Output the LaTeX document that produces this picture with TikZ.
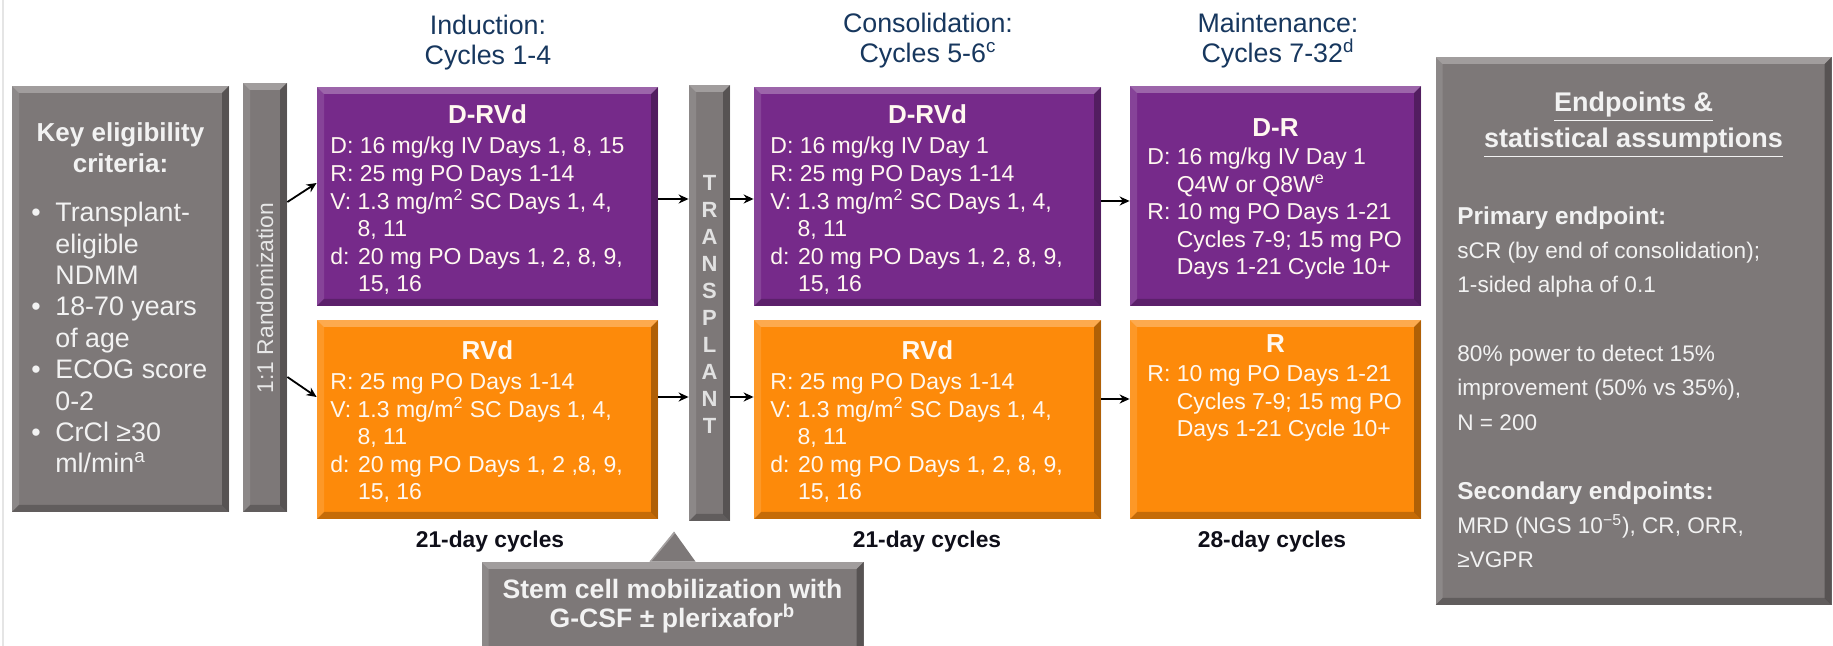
\documentclass[tikz,border=0pt]{standalone}
\usepackage{fontspec}
\setmainfont{Liberation Sans}
\usetikzlibrary{arrows.meta}
\definecolor{gboxc}{RGB}{125,120,120}
\definecolor{purc}{RGB}{118,42,138}
\definecolor{orgc}{RGB}{253,138,10}
\definecolor{ttlc}{RGB}{23,55,94}
\definecolor{ltxt}{RGB}{242,242,242}
\definecolor{wtxt}{RGB}{255,248,240}
\definecolor{darkc}{RGB}{15,15,25}
\newcommand{\bvlpath}{path picture bounding box}
\newcommand{\bulitem}{\makebox[12pt][l]{•}}
\newcommand{\bulcont}{\makebox[12pt]{}}
\begin{document}
\begin{tikzpicture}[x=0.5pt,y=-0.5pt,
 bevel/.style={path picture={
  \fill[white,opacity=.28] (\bvlpath.north west) -- (\bvlpath.north east) -- ([shift={(-3.5pt,-3.5pt)}]\bvlpath.north east) -- ([shift={(3.5pt,-3.5pt)}]\bvlpath.north west) -- cycle;
  \fill[white,opacity=.12] (\bvlpath.north west) -- ([shift={(3.5pt,-3.5pt)}]\bvlpath.north west) -- ([shift={(3.5pt,3.5pt)}]\bvlpath.south west) -- (\bvlpath.south west) -- cycle;
  \fill[black,opacity=.22] (\bvlpath.south west) -- ([shift={(3.5pt,3.5pt)}]\bvlpath.south west) -- ([shift={(-3.5pt,3.5pt)}]\bvlpath.south east) -- (\bvlpath.south east) -- cycle;
  \fill[black,opacity=.3] (\bvlpath.south east) -- ([shift={(-3.5pt,3.5pt)}]\bvlpath.south east) -- ([shift={(-3.5pt,-3.5pt)}]\bvlpath.north east) -- (\bvlpath.north east) -- cycle;
 }},
 boxbase/.style={rectangle, inner sep=0pt, bevel},
 gbox/.style={boxbase, fill=gboxc},
 pbox/.style={boxbase, fill=purc},
 obox/.style={boxbase, fill=orgc},
 phase/.style={align=center, text=ttlc, font=\fontsize{13.4}{15}\selectfont, anchor=base, inner sep=0pt},
 cyc/.style={text=darkc, font=\fontsize{11.4}{13}\selectfont\bfseries, inner sep=0pt},
 hdr/.style={text=wtxt, font=\fontsize{13}{15}\selectfont\bfseries, anchor=base, inner sep=0pt},
 body/.style={text=wtxt, align=left, font=\fontsize{11.5}{13.8}\selectfont, anchor=base west, inner sep=0pt},
 arr/.style={-{Stealth[length=5pt,width=4.5pt]}, line width=0.9pt, black},
]
\useasboundingbox (0,0) rectangle (1833,646);
\clip (0,0) rectangle (1833,646);
\draw[black!10, line width=0.6pt] (3,0) -- (3,646);

% phase titles (anchor = baseline of last line)
\node[phase] (tInd) at (488,65) {Induction:\\Cycles 1-4};
\node[phase] (tCon) at (928,63) {Consolidation:\\Cycles 5-6\textsuperscript{c}};
\node[phase] (tMai) at (1278,63) {Maintenance:\\Cycles 7-32\textsuperscript{d}};

% eligibility box
\node[gbox, minimum width=108.5pt, minimum height=213pt] (elig) at (120.5,299) {};
\node[text=ltxt, align=center, anchor=base, inner sep=0pt, font=\fontsize{13}{15.5}\selectfont\bfseries] (eligT) at (120.5,173) {Key eligibility\\criteria:};
\node[text=ltxt, align=left, anchor=base west, inner sep=0pt, font=\fontsize{13.4}{15.7}\selectfont] (eligL) at (31,473)
 {\bulitem Transplant-\\\bulcont eligible\\\bulcont NDMM\\\bulitem 18-70 years\\\bulcont of age\\\bulitem ECOG score\\\bulcont 0-2\\\bulitem CrCl ≥30\\\bulcont ml/min\textsuperscript{a}};

% randomization bar
\node[gbox, minimum width=22pt, minimum height=214.5pt] (rand) at (265,297.5) {};
\node[rotate=90, text=ltxt!90!gray, inner sep=0pt, font=\fontsize{11.4}{13}\selectfont] (randT) at (265,298) {1:1 Randomization};

% induction
\node[pbox, minimum width=170.5pt, minimum height=109.5pt] (indA) at (487.5,196.5) {};
\node[hdr] (indAh) at (487.5,124) {D-RVd};
\node[body] (indAb) at (330,292) {D: 16 mg/kg IV Days 1, 8, 15\\R: 25 mg PO Days 1-14\\V: 1.3 mg/m\textsuperscript{2} SC Days 1, 4,\\\phantom{V: }8, 11\\d: 20 mg PO Days 1, 2, 8, 9,\\\phantom{d: }15, 16};
\node[obox, minimum width=170.5pt, minimum height=99.5pt] (indB) at (487.5,419.5) {};
\node[hdr] (indBh) at (487.5,360) {RVd};
\node[body] (indBb) at (330,500) {R: 25 mg PO Days 1-14\\V: 1.3 mg/m\textsuperscript{2} SC Days 1, 4,\\\phantom{V: }8, 11\\d: 20 mg PO Days 1, 2 ,8, 9,\\\phantom{d: }15, 16};
\node[cyc] (cInd) at (490,542) {21-day cycles};

% transplant bar
\node[gbox, minimum width=20.5pt, minimum height=218pt] (trans) at (709.5,303) {};
\node[align=center, text=ltxt!85!gray, inner sep=0pt, font=\fontsize{11}{13.5}\selectfont\bfseries] (transT) at (709.5,304) {T\\R\\A\\N\\S\\P\\L\\A\\N\\T};

% consolidation
\node[pbox, minimum width=173.5pt, minimum height=109.5pt] (conA) at (927.5,196.5) {};
\node[hdr] (conAh) at (927.5,124) {D-RVd};
\node[body] (conAb) at (770,292) {D: 16 mg/kg IV Day 1\\R: 25 mg PO Days 1-14\\V: 1.3 mg/m\textsuperscript{2} SC Days 1, 4,\\\phantom{V: }8, 11\\d: 20 mg PO Days 1, 2, 8, 9,\\\phantom{d: }15, 16};
\node[obox, minimum width=173.5pt, minimum height=99.5pt] (conB) at (927.5,419.5) {};
\node[hdr] (conBh) at (927.5,360) {RVd};
\node[body] (conBb) at (770,500) {R: 25 mg PO Days 1-14\\V: 1.3 mg/m\textsuperscript{2} SC Days 1, 4,\\\phantom{V: }8, 11\\d: 20 mg PO Days 1, 2, 8, 9,\\\phantom{d: }15, 16};
\node[cyc] (cCon) at (927,542) {21-day cycles};

% maintenance
\node[pbox, minimum width=145.5pt, minimum height=110pt] (maiA) at (1275.5,196) {};
\node[hdr] (maiAh) at (1275.5,137) {D-R};
\node[body] (maiAb) at (1147,275) {D: 16 mg/kg IV Day 1\\\phantom{D: }Q4W or Q8W\textsuperscript{e}\\R: 10 mg PO Days 1-21\\\phantom{R: }Cycles 7-9; 15 mg PO\\\phantom{R: }Days 1-21 Cycle 10+};
\node[obox, minimum width=145.5pt, minimum height=99.5pt] (maiB) at (1275.5,419.5) {};
\node[hdr] (maiBh) at (1275.5,353) {R};
\node[body] (maiBb) at (1147,437) {R: 10 mg PO Days 1-21\\\phantom{R: }Cycles 7-9; 15 mg PO\\\phantom{R: }Days 1-21 Cycle 10+};
\node[cyc] (cMai) at (1272,542) {28-day cycles};

% endpoints
\node[gbox, minimum width=198pt, minimum height=274pt] (endp) at (1633.5,331) {};
\node[text=ltxt, align=center, anchor=base, inner sep=0pt, font=\fontsize{13.5}{18}\selectfont\bfseries] (endpT) at (1633.5,148) {\underline{Endpoints \&}\\\underline{statistical assumptions}};
\node[text=ltxt, align=left, anchor=base west, inner sep=0pt, font=\fontsize{11.3}{17.2}\selectfont] (endpB) at (1457,568)
 {{\fontsize{12.2}{17.2}\selectfont\bfseries Primary endpoint:}\\sCR (by end of consolidation);\\1-sided alpha of 0.1\\[17.2pt]80\% power to detect 15\%\\improvement (50\% vs 35\%),\\N = 200\\[17.2pt]{\fontsize{12.2}{17.2}\selectfont\bfseries Secondary endpoints:}\\MRD (NGS 10\textsuperscript{−5}), CR, ORR,\\≥VGPR};

% stem cell mobilization
\node[gbox, minimum width=191pt, minimum height=56pt] (stem) at (672.5,618) {};
\fill[gboxc] ([xshift=-11.5pt]stem.north) -- ([xshift=0.75pt,yshift=15pt]stem.north) -- ([xshift=11.5pt]stem.north) -- cycle;
\draw[white,opacity=.3,line width=1.2pt] ([xshift=-11pt,yshift=0.5pt]stem.north) -- ([xshift=0.75pt,yshift=14.5pt]stem.north);
\node[text=ltxt, align=center, anchor=base, inner sep=0pt, font=\fontsize{13.3}{14.5}\selectfont\bfseries] (stemT) at (672.5,628) {Stem cell mobilization with\\G-CSF ± plerixafor\textsuperscript{b}};

% arrows
\draw[arr] ([yshift=47.75pt]rand.east) -- ([yshift=6.75pt]indA.west);
\draw[arr] ([yshift=-39.75pt]rand.east) -- ([yshift=11.25pt]indB.west);
\coordinate (a1) at ([yshift=-1.25pt]indA.east);
\coordinate (a2) at ([yshift=11.25pt]indB.east);
\coordinate (a3) at ([yshift=-1.25pt]conA.west);
\coordinate (a4) at ([yshift=11.25pt]conB.west);
\coordinate (a5) at ([yshift=-2.25pt]conA.east);
\coordinate (a6) at ([yshift=10.25pt]conB.east);
\draw[arr] (a1) -- (a1 -| trans.west);
\draw[arr] (a2) -- (a2 -| trans.west);
\draw[arr] (a3 -| trans.east) -- (a3);
\draw[arr] (a4 -| trans.east) -- (a4);
\draw[arr] (a5) -- (a5 -| maiA.west);
\draw[arr] (a6) -- (a6 -| maiB.west);
\end{tikzpicture}
\end{document}
